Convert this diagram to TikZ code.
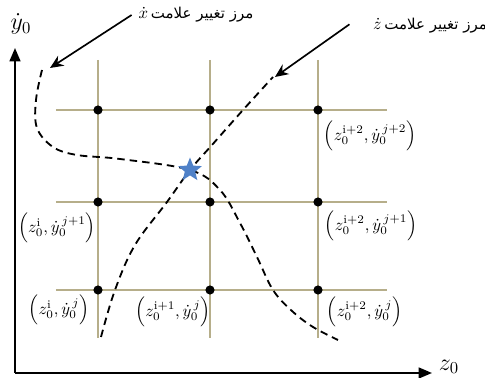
\documentclass[tikz,border=0pt]{standalone}
\usepackage{fontspec}
\newfontfamily\arabicfont[Script=Arabic]{DejaVu Sans}
\TeXXeTstate=1
\usetikzlibrary{arrows.meta,shapes.geometric}
\definecolor{gridc}{RGB}{182,174,138}
\definecolor{starblue}{RGB}{79,129,200}
\begin{document}
\begin{tikzpicture}[
x=0.6pt, y=-0.6pt,
gridline/.style={draw=gridc, line width=0.7pt},
dot/.style={circle, fill=black, inner sep=0pt, minimum size=5.5pt},
boundary/.style={line width=1.1pt, dash pattern=on 4.5pt off 3pt},
pointer/.style={line width=1pt, -{Stealth[length=8pt,width=7pt]}},
axis/.style={line width=1.1pt, -{Triangle[length=8pt,width=6.5pt]}},
pt/.style={inner sep=1pt}
]
\useasboundingbox (0,0) rectangle (485,378);
% axes
\coordinate (O) at (15,373);
\coordinate (Y) at (15,48);
\coordinate (X) at (432,373);
\draw[axis] (O) -- (Y);
\draw[axis] (O) -- (X);
\node (ylab) at (21,24) {\Large $\dot{y}_0$};
\node (xlab) at (449,367) {\Large $z_0$};
% grid
\draw[gridline] (98,60) -- (98,338);
\draw[gridline] (210,60) -- (210,338);
\draw[gridline] (318,60) -- (318,338);
\draw[gridline] (56,110) -- (387,110);
\draw[gridline] (56,202) -- (387,202);
\draw[gridline] (56,290) -- (387,290);
\node[dot] (a1) at (98,110) {};
\node[dot] (a2) at (210,110) {};
\node[dot] (a3) at (318,110) {};
\node[dot] (b1) at (98,202) {};
\node[dot] (b2) at (210,202) {};
\node[dot] (b3) at (318,202) {};
\node[dot] (c1) at (98,290) {};
\node[dot] (c2) at (210,290) {};
\node[dot] (c3) at (318,290) {};
% grid point labels
\node[pt, anchor=west] (ta) at (322,136) {$\left(z_0^{\mathrm{i}+2},\dot{y}_0^{\,j+2}\right)$};
\node[pt] (mb) at (57,228) {$\left(z_0^{\mathrm{i}},\dot{y}_0^{\,j+1}\right)$};
\node[pt, anchor=west] (tb) at (323,226) {$\left(z_0^{\mathrm{i}+2},\dot{y}_0^{\,j+1}\right)$};
\node[pt] (mc) at (59,310) {$\left(z_0^{\mathrm{i}},\dot{y}_0^{\,j}\right)$};
\node[pt] (nc) at (173,312) {$\left(z_0^{\mathrm{i}+1},\dot{y}_0^{\,j}\right)$};
\node[pt, anchor=west] (tc) at (325,312) {$\left(z_0^{\mathrm{i}+2},\dot{y}_0^{\,j}\right)$};
% sign change boundaries
\draw[boundary] plot[smooth, tension=0.6] coordinates {(42,70) (36,100) (37,128) (53,147) (77,155) (120,159) (190,170) (220,190) (240,223) (257,257) (273,290) (292,311) (313,327) (338,340)};
\draw[boundary] plot[smooth, tension=0.6] coordinates {(101,337) (115,290) (135,245) (167,202) (190,170) (212,145) (243,110) (273,77)};
\node[star, star points=5, star point ratio=2.3, fill=starblue, inner sep=0pt, minimum size=15pt] (s) at (190,170) {};
% boundary names
\node[inner sep=1pt] (xt) at (196,15) {$\dot{x}$\,{\arabicfont\small\beginR مرز تغییر علامت\endR}};
\node[inner sep=1pt] (zt) at (430,26) {$\dot{z}$\,{\arabicfont\small\beginR مرز تغییر علامت\endR}};
\coordinate (xe) at (50,68);
\coordinate (ze) at (275,77);
\draw[pointer] ([xshift=-3pt]xt.west) -- (xe);
\draw[pointer] ([xshift=-13pt,yshift=1pt]zt.west) -- (ze);
\end{tikzpicture}
\end{document}
